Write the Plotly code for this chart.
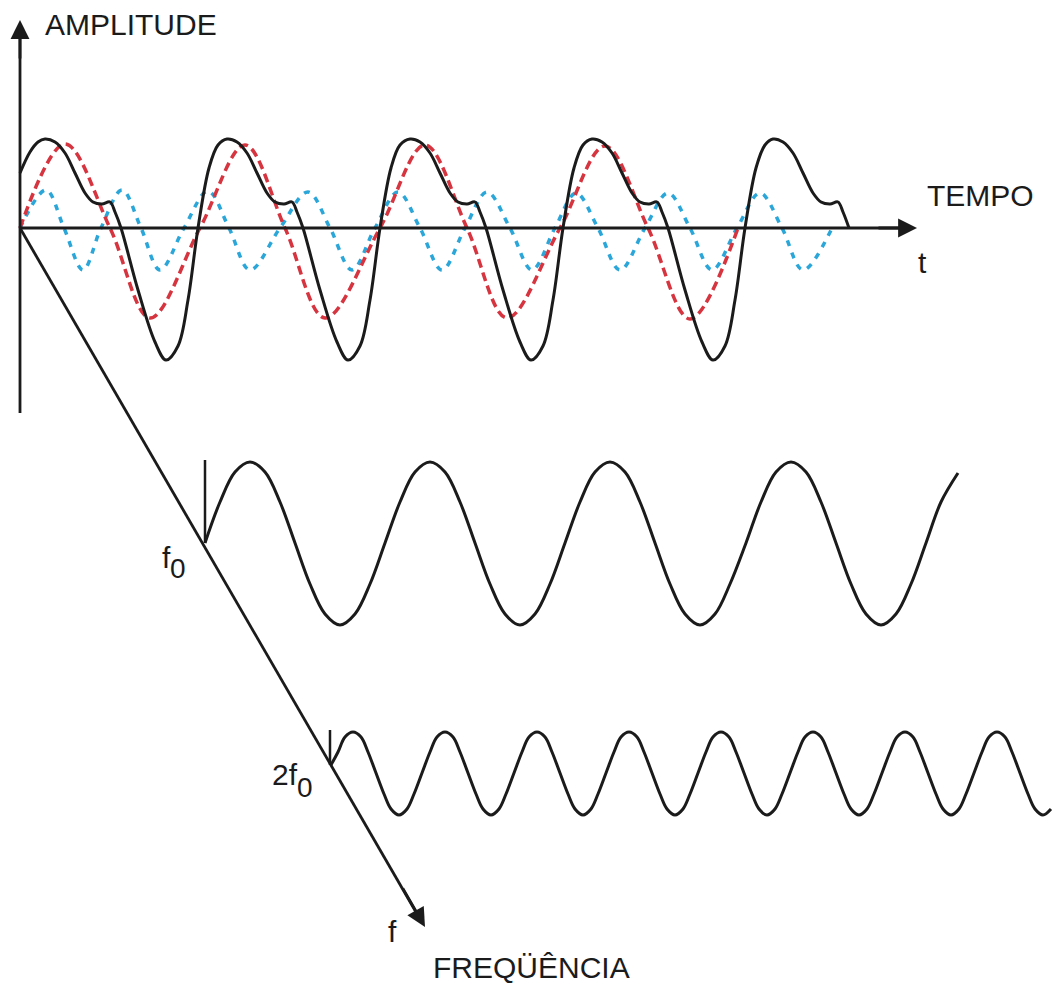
import plotly.graph_objects as go

# drawing units = picture pixels, x to the right, y downwards

# fundamental (red dashed)
f1_x = [20, 65, 110, 150, 200, 245, 285, 325, 380, 425, 467, 507, 560, 605, 648, 690, 738]
f1_y = [228, 144, 228, 318, 228, 145, 228, 318, 228, 145, 228, 318, 228, 146, 228, 319, 228]

# second harmonic (blue dashed)
f2_x = [20, 46, 64, 83, 101, 122, 141, 160, 184, 208, 229, 250, 280, 308, 330, 352, 375,
        398, 420, 442, 465, 487, 510, 532, 555, 576, 598, 620, 645, 668, 690, 712, 737,
        760, 782, 803, 832]
f2_y = [228, 190, 228, 270, 228, 190, 228, 270, 228, 191, 228, 270, 228, 192, 228, 270, 228,
        192, 228, 270, 228, 192, 228, 270, 228, 193, 228, 270, 228, 193, 228, 270, 228,
        193, 228, 270, 228]

# composite signal (black): one cycle, repeated at each peak
sum_start_x = [20, 30, 38]
sum_start_y = [173, 152, 142]
sum_peaks = [45, 227, 410, 592, 773]
cycle_dx = [0, 10, 20, 30, 40, 48, 57, 65, 70, 76, 93, 110, 121, 133, 143, 153, 164, 173]
cycle_y = [139, 142, 153, 173, 193, 202, 204, 202, 212, 228, 290, 342, 360, 346, 300, 228, 168, 145]
sum_last_dx = 76

# f0 component: one cycle from its upward zero crossing
f0_starts = [205, 385, 565, 746]
f0_cycle_dx = [0, 15, 30, 45, 60, 75, 90, 105, 120, 135, 150, 165]
f0_cycle_y = [543, 502, 472, 462, 472, 502, 543, 584, 614, 625, 614, 584]
f0_tail_x = [926, 941, 958]
f0_tail_y = [543, 502, 473]

# 2f0 component
h2_head_x = [331]
h2_head_y = [765]
h2_starts = [330, 422, 514, 606, 698, 790, 882, 974]
h2_cycle_dx = [0, 8, 15, 23, 31, 38, 46, 54, 61, 69, 77, 84]
h2_cycle_y = [773, 752, 737, 732, 737, 752, 773, 794, 809, 815, 809, 794]

# axes of the sketch
origin = (20, 228)
amp_top, amp_bottom = 20, 413
time_end = 917
freq_end = (425, 927)
f0_tick = (205, 460, 543)
h2_tick = (330, 730, 765)


def tile(head_x, head_y, starts, dx, ys, x_min, x_max):
    xs, out_y = list(head_x), list(head_y)
    for s in starts:
        for d, v in zip(dx, ys):
            if x_min < s + d <= x_max:
                xs.append(s + d)
                out_y.append(v)
    return xs, out_y


sum_x, sum_y = list(sum_start_x), list(sum_start_y)
for i, p in enumerate(sum_peaks):
    for dx, yy in zip(cycle_dx, cycle_y):
        if i == len(sum_peaks) - 1 and dx > sum_last_dx:
            break
        sum_x.append(p + dx)
        sum_y.append(yy)

f0_x, f0_y = tile([], [], f0_starts, f0_cycle_dx, f0_cycle_y, 0, 920)
f0_x += f0_tail_x
f0_y += f0_tail_y
h2_x, h2_y = tile(h2_head_x, h2_head_y, h2_starts, h2_cycle_dx, h2_cycle_y, 335, 1055)

BLACK = "#1b1b1b"
RED = "#d6343f"
BLUE = "#2aa6d9"
FONT = "Liberation Sans, Arial, sans-serif"

fig = go.Figure()

fig.add_trace(go.Scatter(x=f2_x, y=f2_y, mode="lines", line_shape="spline",
                         line=dict(color=BLUE, width=3.5, dash="6px,7px", smoothing=1)))
fig.add_trace(go.Scatter(x=f1_x, y=f1_y, mode="lines", line_shape="spline",
                         line=dict(color=RED, width=3.5, dash="9px,5px", smoothing=1)))

# axes
fig.add_trace(go.Scatter(x=[origin[0], origin[0]], y=[amp_bottom, amp_top + 8], mode="lines",
                         line=dict(color=BLACK, width=2.8)))
fig.add_trace(go.Scatter(x=[origin[0], time_end - 8], y=[origin[1], origin[1]], mode="lines",
                         line=dict(color=BLACK, width=2.8)))
fig.add_trace(go.Scatter(x=[origin[0], freq_end[0] - 5], y=[origin[1], freq_end[1] - 8], mode="lines",
                         line=dict(color=BLACK, width=2.8)))
fig.add_trace(go.Scatter(x=[f0_tick[0], f0_tick[0]], y=[f0_tick[1], f0_tick[2]], mode="lines",
                         line=dict(color=BLACK, width=2.5)))
fig.add_trace(go.Scatter(x=[h2_tick[0], h2_tick[0]], y=[h2_tick[1], h2_tick[2]], mode="lines",
                         line=dict(color=BLACK, width=2.5)))

fig.add_trace(go.Scatter(x=sum_x, y=sum_y, mode="lines", line_shape="spline",
                         line=dict(color=BLACK, width=3, smoothing=1)))
fig.add_trace(go.Scatter(x=f0_x, y=f0_y, mode="lines", line_shape="spline",
                         line=dict(color=BLACK, width=3, smoothing=1)))
fig.add_trace(go.Scatter(x=h2_x, y=h2_y, mode="lines", line_shape="spline",
                         line=dict(color=BLACK, width=3, smoothing=1)))

# arrow heads
heads = [
    (origin[0], amp_top, origin[0], amp_top + 40),
    (time_end, origin[1], time_end - 40, origin[1]),
    (freq_end[0], freq_end[1], freq_end[0] - 23, freq_end[1] - 40),
]
for x, y, ax, ay in heads:
    fig.add_annotation(x=x, y=y, ax=ax, ay=ay, xref="x", yref="y", axref="x", ayref="y",
                       text="", showarrow=True, arrowhead=2, arrowsize=1.35, arrowwidth=2.8,
                       arrowcolor=BLACK, standoff=0)

labels = [
    ("AMPLITUDE", 43, 24, 30),
    ("TEMPO", 925, 195, 30),
    ("t", 916, 262, 30),
    ("f", 386, 931, 30),
    ("FREQÜÊNCIA", 431, 967, 30),
    ("f", 160, 557, 30),
    ("0", 168, 568, 28),
    ("2f", 270, 774, 30),
    ("0", 295, 787, 28),
]
for txt, x, y, size in labels:
    fig.add_annotation(x=x, y=y, xref="x", yref="y", text=txt, showarrow=False,
                       xanchor="left", yanchor="middle",
                       font=dict(family=FONT, size=size, color=BLACK))

fig.update_layout(
    width=1055, height=987,
    margin=dict(l=0, r=0, t=0, b=0),
    paper_bgcolor="white", plot_bgcolor="white",
    showlegend=False,
    xaxis=dict(range=[0, 1055], visible=False, fixedrange=True),
    yaxis=dict(range=[987, 0], visible=False, fixedrange=True),
)

fig.write_html("out.html", config={"displayModeBar": False},
               post_script="document.body.style.margin='0';")
